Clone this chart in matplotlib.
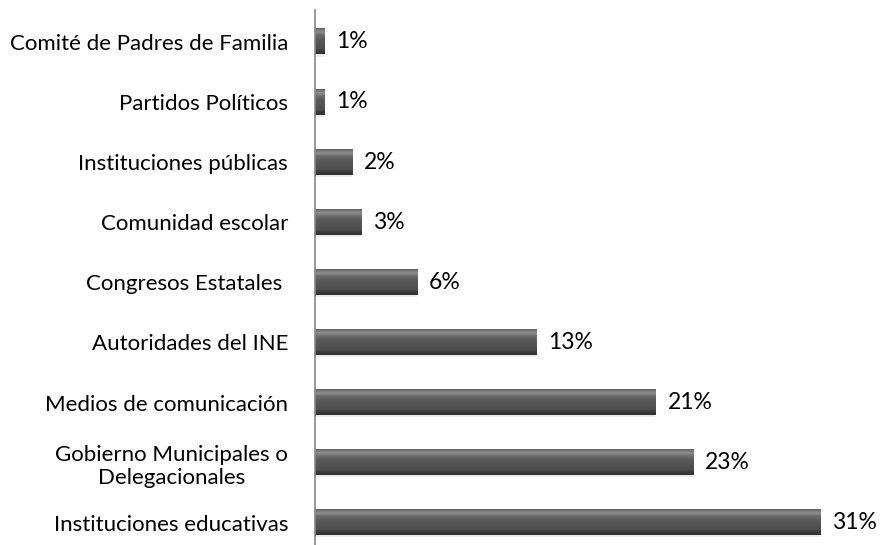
import numpy as np
import matplotlib.pyplot as plt
from matplotlib.colors import LinearSegmentedColormap

# bottom to top
categories = ["Instituciones educativas", "Gobierno Municipales o\nDelegacionales",
              "Medios de comunicación", "Autoridades del INE", "Congresos Estatales ",
              "Comunidad escolar", "Instituciones públicas", "Partidos Políticos",
              "Comité de Padres de Familia"]
values = [31.0, 23.2, 20.9, 13.56, 6.27, 2.85, 2.28, 0.58, 0.58]
labels = ["31%", "23%", "21%", "13%", "6%", "3%", "2%", "1%", "1%"]

plt.rcParams['font.family'] = ['Lato', 'DejaVu Sans']

fig = plt.figure(figsize=(8.85, 5.45), dpi=100)
ax = fig.add_axes([314.5 / 885, 0, 1 - 314.5 / 885, 535 / 545])

# bevel-like vertical shading for the bars
shade = LinearSegmentedColormap.from_list(
    "bevel", [(0.0, "#303030"), (0.12, "#3c3c3c"), (0.2, "#4d4d4d"),
              (0.55, "#585858"), (0.72, "#6a6a6a"), (0.85, "#8c8c8c"),
              (0.94, "#7a7a7a"), (1.0, "#5e5e5e")])
grad = np.linspace(0, 1, 64).reshape(-1, 1)

y = np.arange(len(categories))
h = 0.42
bars = ax.barh(y, values, height=h, color="none", edgecolor="none")
for b, v, lab in zip(bars, values, labels):
    y0 = b.get_y()
    # soft shadow under the bar
    ax.barh(y0 - 0.035 + h / 2, v, height=h, color="#000000", alpha=0.08,
            edgecolor="none", zorder=1)
    ax.imshow(grad, cmap=shade, origin="lower", aspect="auto",
              extent=(0, v, y0, y0 + h), zorder=2)
    ax.annotate(lab, (v, y0 + h / 2), xytext=(9, 0), textcoords="offset points",
                va="center", ha="left", fontsize=16.5, color="#000000")

ax.set_xlim(0, 35)
ax.set_ylim(-0.37, 8.53)
ax.set_yticks(y)
ax.set_yticklabels(categories, fontsize=16, multialignment="center")
ax.tick_params(axis="y", length=0, pad=19)
ax.set_xticks([])
for s in ["top", "right", "bottom"]:
    ax.spines[s].set_visible(False)
ax.spines["left"].set_color("#868686")
ax.spines["left"].set_linewidth(1.2)

fig.savefig("out.png", dpi=100)
